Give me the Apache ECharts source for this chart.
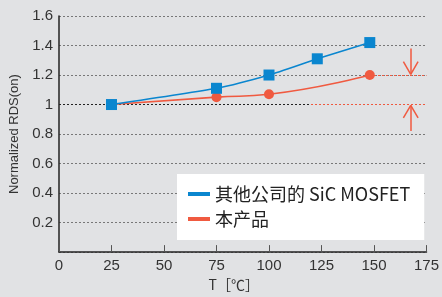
<!DOCTYPE html>
<html>
<head>
<meta charset="utf-8">
<script src="https://cdn.jsdelivr.net/npm/echarts@6/dist/echarts.min.js"></script>
<style>
  html, body { margin: 0; padding: 0; background: #e1e2e4; }
</style>
</head>
<body>
<div id="rds" style="width: 442px; height: 297px;"></div>
<script>
// 温度 [℃]
const otherTemps = [25, 75, 100, 123, 148]
const otherVals = [1.0, 1.11, 1.2, 1.31, 1.42]
const ourTemps = [25, 75, 100, 148]
const ourVals = [1.0, 1.05, 1.07, 1.2]
const seriesNames = ['其他公司的 SiC MOSFET', '本产品']

const blue = '#0a86cf'
const red = '#f05a40'
const numFont = 'Liberation Sans'

// 箭头：竖线 + 两条斜线
const arrowX = 167.5
const solid = { type: 'solid', width: 1.5 }
function seg (x1, y1, x2, y2, style) {
  return [{ coord: [x1, y1], lineStyle: style }, { coord: [x2, y2] }]
}

const option = {
  backgroundColor: '#e1e2e4',
  animation: false,
  grid: { left: 54, top: 16, right: 12, bottom: 39 },
  legend: {
    orient: 'vertical',
    left: 177,
    top: 174,
    width: 255,
    backgroundColor: '#fff',
    padding: [11, 14, 12, 11],
    itemGap: 7,
    icon: 'rect',
    itemWidth: 22,
    itemHeight: 4,
    textStyle: { fontSize: 18, color: '#222', fontFamily: 'Noto Sans CJK JP' },
    data: seriesNames
  },
  xAxis: {
    type: 'value',
    min: 0,
    max: 175,
    interval: 25,
    name: 'T［℃］',
    nameLocation: 'middle',
    nameGap: 20,
    nameTextStyle: { fontSize: 14, color: '#333', fontFamily: 'Noto Sans CJK JP', padding: [0, 18, 0, 0] },
    axisLine: { lineStyle: { color: '#222', width: 1.5 } },
    axisTick: { inside: true, length: 7, lineStyle: { color: '#555' } },
    axisLabel: { fontSize: 15, color: '#333', margin: 6, fontFamily: numFont },
    splitLine: { show: false }
  },
  yAxis: {
    type: 'value',
    min: 0,
    max: 1.6,
    interval: 0.2,
    name: 'Normalized RDS(on)',
    nameLocation: 'middle',
    nameGap: 38,
    nameTextStyle: { fontSize: 13, color: '#333', fontFamily: numFont },
    axisLine: { show: true, lineStyle: { color: '#222', width: 1.5 } },
    axisTick: { show: false },
    axisLabel: {
      fontSize: 15, color: '#333', margin: 6, fontFamily: numFont,
      formatter: v => (v === 0 ? '' : +v.toFixed(1) + '')
    },
    splitLine: {
      show: true,
      lineStyle: {
        type: [2, 2],
        width: 1,
        color: ['#888', '#777', '#777', '#777', '#777', '#222', '#777', '#777', '#777']
      }
    }
  },
  series: [
    {
      name: seriesNames[1],
      type: 'line',
      smooth: 0.5,
      symbol: 'circle',
      symbolSize: 10,
      z: 2,
      itemStyle: { color: red },
      lineStyle: { color: red, width: 1.6 },
      data: ourTemps.map((t, i) => [t, ourVals[i]]),
      markLine: {
        silent: true,
        symbol: 'none',
        label: { show: false },
        lineStyle: { color: red, type: [2, 2], width: 1 },
        data: [
          [{ coord: [150, 1.2] }, { coord: [175, 1.2] }],
          [{ coord: [120, 1.0] }, { coord: [175, 1.0] }],
          // 上箭头（向下）
          seg(arrowX, 1.38, arrowX, 1.205, solid),
          seg(arrowX - 3.5, 1.29, arrowX, 1.205, solid),
          seg(arrowX + 3.5, 1.29, arrowX, 1.205, solid),
          // 下箭头（向上）
          seg(arrowX, 0.82, arrowX, 0.995, solid),
          seg(arrowX - 3.5, 0.91, arrowX, 0.995, solid),
          seg(arrowX + 3.5, 0.91, arrowX, 0.995, solid)
        ]
      }
    },
    {
      name: seriesNames[0],
      type: 'line',
      smooth: 0.2,
      symbol: 'rect',
      symbolSize: 11,
      z: 3,
      itemStyle: { color: blue },
      lineStyle: { color: blue, width: 1.6 },
      data: otherTemps.map((t, i) => [t, otherVals[i]])
    }
  ]
}

let myChart = echarts.init(document.getElementById('rds'))
window.onresize = myChart.resize
myChart.setOption(option)
</script>
</body>
</html>
